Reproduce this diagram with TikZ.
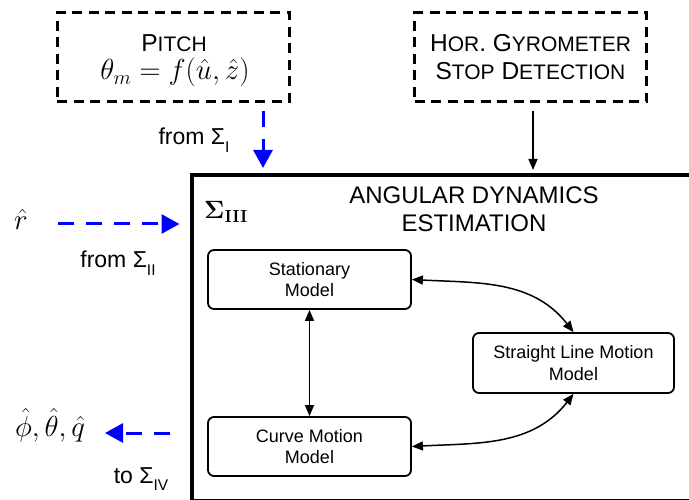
\documentclass[tikz,border=0pt]{standalone}
\usepackage{fix-cm}
\usepackage[no-math]{fontspec}
\setmainfont{Liberation Sans}
\usetikzlibrary{arrows.meta}

\definecolor{flowblue}{RGB}{0,0,255}

% faked small capitals and lowered subscripts for the sans labels
\newcommand\smc[1]{{\fontsize{21}{21}\selectfont #1}}
\newcommand\lsub[1]{\raisebox{-0.32em}{\fontsize{15.5}{15.5}\selectfont #1}}
\newcommand\bigmath{\fontsize{29}{29}\selectfont}

\tikzset{
  dashbox/.style={draw, line width=3pt, dash pattern=on 10pt off 6.5pt,
    inner sep=0pt, minimum width=232pt, minimum height=89pt,
    align=center, font=\fontsize{24.5}{28}\selectfont},
  modelbox/.style={draw, line width=1.8pt, rounded corners=6pt, inner sep=0pt,
    minimum height=59pt, align=center, font=\fontsize{18}{21.5}\selectfont},
  lbl/.style={inner sep=0pt, font=\fontsize{23}{23}\selectfont},
  mathlbl/.style={inner sep=0pt, font=\bigmath},
  bluearrow/.style={draw=flowblue, line width=3pt, dash pattern=on 16pt off 12pt,
    -{Triangle[length=18pt,width=19pt]}},
  blackarrow/.style={draw=black, line width=1.5pt, -{Triangle[length=11pt,width=9pt]}},
  twoway/.style={draw=black, line width=1.5pt,
    {Triangle[length=11pt,width=9pt]}-{Triangle[length=11pt,width=9pt]}},
}

\begin{document}
\begin{tikzpicture}[x=1pt, y=-1pt]
  \useasboundingbox (0,0) rectangle (689,500);
  \clip (0,0) rectangle (689,500);
  \fill[white] (0,0) rectangle (689,500);

  % outer estimation block (runs past the right edge)
  \node[draw, line width=4pt, inner sep=0pt, anchor=north west,
        minimum width=560pt, minimum height=325.5pt] (main) at (189.5,173) {};
  \node[anchor=west, inner sep=0pt] (sig) at (204,212)
       {\fontsize{25}{25}\selectfont$\mathbf{\Sigma_{III}}$};
  \node[align=center, inner sep=0pt, font=\fontsize{24}{28}\selectfont] (title)
       at (474,209) {ANGULAR DYNAMICS\\ESTIMATION};

  % input blocks
  \node[dashbox] (pitch) at (173,57.5) {};
  \node[anchor=base, inner sep=0pt, font=\fontsize{24.5}{28}\selectfont] (pitchname)
       at (174,52) {P\smc{ITCH}};
  \node[anchor=base, mathlbl] (pitchlaw) at (175,80) {$\theta_m = f(\hat{u},\hat{z})$};
  \node[dashbox] (gyro) at (530.5,57.5)
       {H\smc{OR}. G\smc{YROMETER}\\S\smc{TOP} D\smc{ETECTION}};

  % motion models
  \node[modelbox, minimum width=203pt] (stat) at (309.5,279.5) {Stationary\\Model};
  \node[modelbox, minimum width=203pt] (curve) at (309.5,446.5) {Curve Motion\\Model};
  \node[modelbox, minimum width=201pt, minimum height=60pt] (straight) at (573.5,363)
       {Straight Line Motion\\Model};

  % outside signals
  \node[mathlbl] (rhat) at (21,219) {$\hat{r}$};
  \node[mathlbl] (outs) at (50,425) {$\hat{\phi},\hat{\theta},\hat{q}$};
  \node[lbl, anchor=base] (fromI) at (194,145) {from Σ\lsub{I}};
  \node[lbl, anchor=base] (fromII) at (118,268) {from Σ\lsub{II}};
  \node[lbl, anchor=base] (toIV) at (141,483) {to Σ\lsub{IV}};

  \coordinate (pin) at (263,168);
  \coordinate (gin) at (533,170);
  \coordinate (rstart) at (58,224);
  \coordinate (outtip) at (105,433);

  % connectors
  \draw[bluearrow, shorten <=8pt, shorten >=5pt] (pitch.south -| pin) -- (main.north -| pin);
  \draw[bluearrow, shorten >=10pt] (rstart) -- (main.west |- rstart);
  \draw[bluearrow, shorten <=20pt] (main.west |- outtip) -- (outtip);
  \draw[blackarrow, shorten <=8pt, shorten >=3pt] (gyro.south -| gin) -- (main.north -| gin);

  \draw[twoway] (stat) -- (curve);
  \draw[twoway] (stat.east) to[out=-3, in=128] (straight.north);
  \draw[twoway] (curve.east) to[out=3, in=-128] (straight.south);
\end{tikzpicture}
\end{document}
